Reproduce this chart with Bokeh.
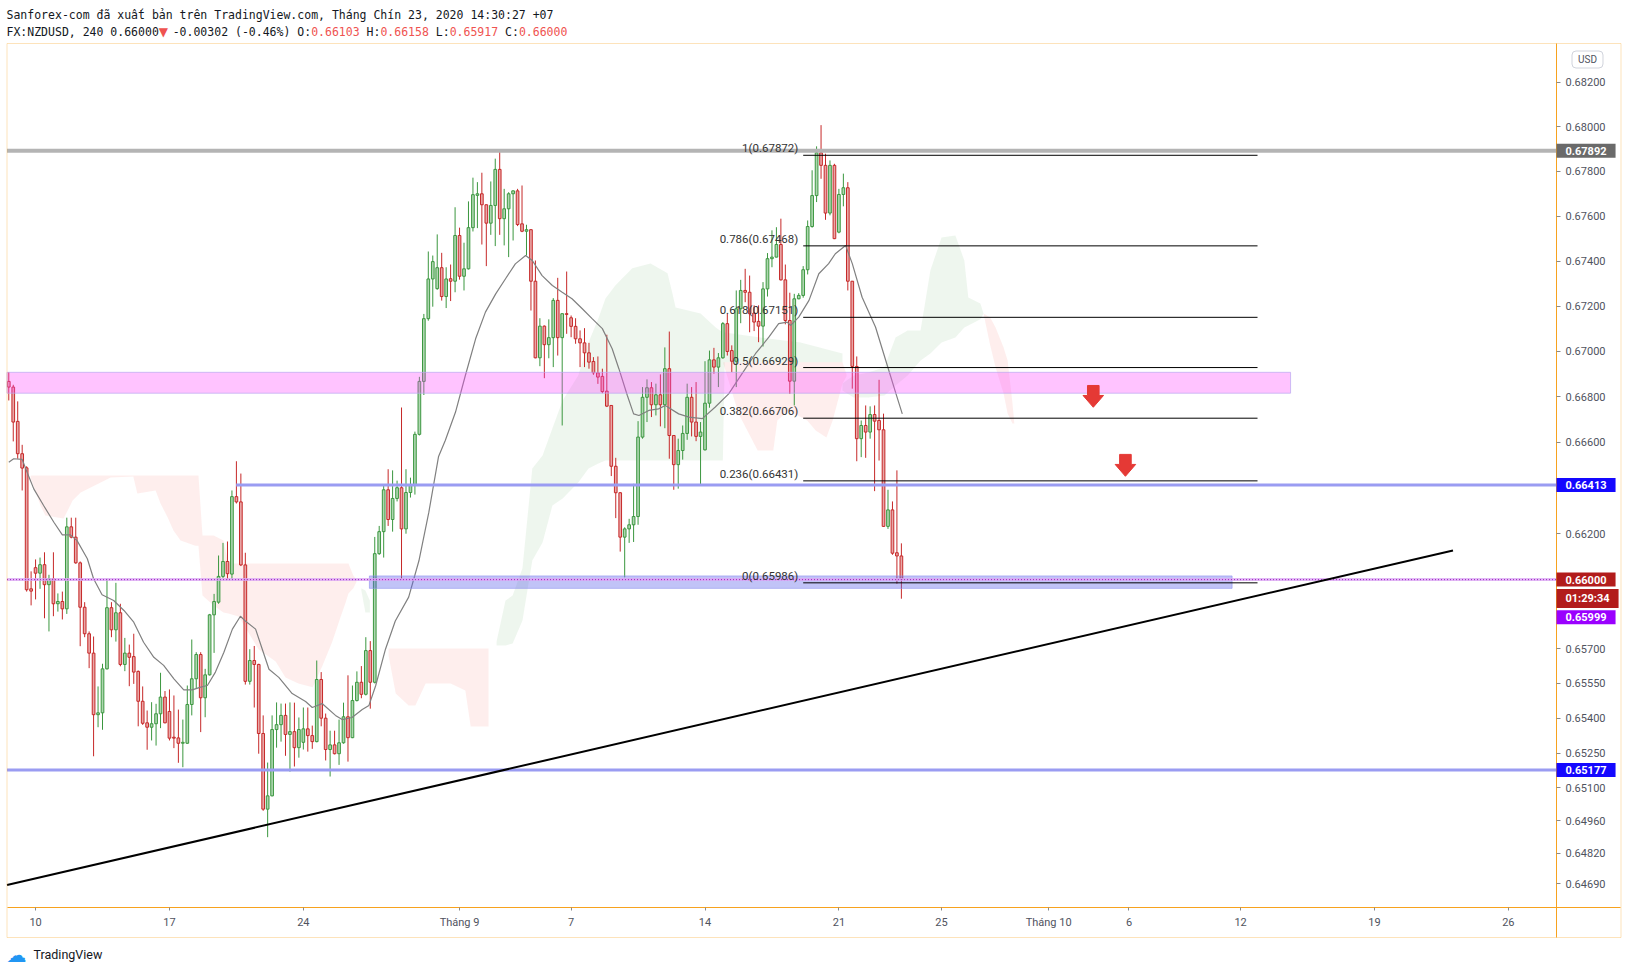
from bokeh.plotting import figure
from bokeh.models import (Range1d, FixedTicker, PrintfTickFormatter, Label,
                          BoxAnnotation, ColumnDataSource)
from bokeh.core.properties import value
from bokeh.embed import file_html
from bokeh.resources import INLINE

# ---------------- data (FX:NZDUSD, 4h) ----------------
OPEN = [
    0.66868, 0.66843, 0.66692, 0.66550, 0.66488, 0.65960, 0.66052, 0.66028, 0.66065, 0.65978,
    0.66004, 0.65895, 0.65905, 0.65873, 0.66230, 0.66185, 0.66073, 0.65880, 0.65765, 0.65681,
    0.65415, 0.65423, 0.65613, 0.65878, 0.65782, 0.65856, 0.65632, 0.65681, 0.65666, 0.65602,
    0.65473, 0.65380, 0.65361, 0.65376, 0.65419, 0.65491, 0.65429, 0.65318, 0.65315, 0.65292,
    0.65292, 0.65459, 0.65570, 0.65675, 0.65488, 0.65587, 0.65847, 0.65902, 0.66014, 0.66079,
    0.66024, 0.66362, 0.66339, 0.66064, 0.65559, 0.65649, 0.65632, 0.65334, 0.65009, 0.65066,
    0.65351, 0.65372, 0.65412, 0.65330, 0.65342, 0.65273, 0.65296, 0.65354, 0.65325, 0.65299,
    0.65567, 0.65400, 0.65265, 0.65285, 0.65247, 0.65294, 0.65406, 0.65316, 0.65476, 0.65555,
    0.65503, 0.65692, 0.65555, 0.66113, 0.66209, 0.66392, 0.66262, 0.66354, 0.66401, 0.66221,
    0.66380, 0.66411, 0.66635, 0.66868, 0.67145, 0.67321, 0.67278, 0.67371, 0.67243, 0.67322,
    0.67311, 0.67514, 0.67333, 0.67366, 0.67549, 0.67693, 0.67700, 0.67651, 0.67569, 0.67648,
    0.67809, 0.67589, 0.67633, 0.67700, 0.67713, 0.67566, 0.67533, 0.67540, 0.67311, 0.66972,
    0.67112, 0.67030, 0.67061, 0.67226, 0.67061, 0.67167, 0.67149, 0.67111, 0.67056, 0.67038,
    0.66994, 0.66956, 0.66906, 0.66890, 0.66825, 0.66762, 0.66495, 0.66379, 0.66185, 0.66221,
    0.66239, 0.66275, 0.66623, 0.66798, 0.66840, 0.66765, 0.66809, 0.66765, 0.66924, 0.66630,
    0.66502, 0.66564, 0.66639, 0.66798, 0.66689, 0.66626, 0.66567, 0.66772, 0.66963, 0.66931,
    0.66972, 0.67123, 0.67004, 0.66957, 0.67189, 0.67270, 0.67262, 0.67170, 0.67133, 0.67112,
    0.67277, 0.67411, 0.67418, 0.67474, 0.67317, 0.67137, 0.66869, 0.67233, 0.67248, 0.67362,
    0.67554, 0.67692, 0.67883, 0.67827, 0.67614, 0.67827, 0.67529, 0.67697, 0.67727, 0.67311,
    0.66934, 0.66616, 0.66674, 0.66645, 0.66722, 0.66696, 0.66655, 0.66232, 0.66304, 0.66117,
    0.66103,
]
HIGH = [
    0.66909, 0.66853, 0.66780, 0.66589, 0.66495, 0.66036, 0.66088, 0.66096, 0.66119, 0.66021,
    0.66119, 0.65940, 0.65948, 0.66270, 0.66270, 0.66270, 0.66079, 0.65902, 0.65775, 0.65753,
    0.65537, 0.65635, 0.66004, 0.65902, 0.65986, 0.65895, 0.65747, 0.65718, 0.65765, 0.65606,
    0.65537, 0.65433, 0.65469, 0.65462, 0.65596, 0.65517, 0.65524, 0.65498, 0.65437, 0.65394,
    0.65541, 0.65740, 0.65685, 0.65685, 0.65613, 0.65851, 0.65938, 0.66105, 0.66160, 0.66166,
    0.66389, 0.66517, 0.66463, 0.66117, 0.65698, 0.65712, 0.65635, 0.65412, 0.65209, 0.65412,
    0.65468, 0.65463, 0.65463, 0.65468, 0.65467, 0.65403, 0.65446, 0.65446, 0.65368, 0.65649,
    0.65599, 0.65420, 0.65346, 0.65346, 0.65394, 0.65467, 0.65585, 0.65541, 0.65602, 0.65625,
    0.65750, 0.65733, 0.66186, 0.66234, 0.66411, 0.66482, 0.66477, 0.66432, 0.66753, 0.66482,
    0.66445, 0.66647, 0.66888, 0.67166, 0.67443, 0.67425, 0.67519, 0.67437, 0.67373, 0.67385,
    0.67640, 0.67549, 0.67482, 0.67666, 0.67772, 0.67752, 0.67794, 0.67652, 0.67755, 0.67857,
    0.67892, 0.67722, 0.67707, 0.67715, 0.67722, 0.67737, 0.67562, 0.67541, 0.67403, 0.67147,
    0.67115, 0.67142, 0.67236, 0.67326, 0.67168, 0.67354, 0.67159, 0.67147, 0.67093, 0.67103,
    0.67038, 0.66975, 0.66978, 0.66924, 0.67074, 0.66762, 0.66532, 0.66382, 0.66228, 0.66265,
    0.66418, 0.66693, 0.66843, 0.66877, 0.66865, 0.66858, 0.66899, 0.67018, 0.67088, 0.66632,
    0.66616, 0.66674, 0.66858, 0.66843, 0.66865, 0.66689, 0.66957, 0.67004, 0.67016, 0.66993,
    0.67130, 0.67167, 0.67027, 0.67270, 0.67317, 0.67366, 0.67336, 0.67204, 0.67204, 0.67307,
    0.67436, 0.67537, 0.67551, 0.67589, 0.67385, 0.67260, 0.67255, 0.67258, 0.67378, 0.67581,
    0.67805, 0.67912, 0.68007, 0.67879, 0.67849, 0.67834, 0.67722, 0.67790, 0.67752, 0.67312,
    0.66978, 0.66696, 0.66762, 0.66758, 0.66762, 0.66875, 0.66726, 0.66392, 0.66341, 0.66477,
    0.66158,
]
LOW = [
    0.66784, 0.66604, 0.66528, 0.66389, 0.65948, 0.65888, 0.65914, 0.65960, 0.65832, 0.65775,
    0.65841, 0.65861, 0.65827, 0.65851, 0.66180, 0.66069, 0.65711, 0.65750, 0.65616, 0.65236,
    0.65361, 0.65350, 0.65610, 0.65750, 0.65731, 0.65624, 0.65603, 0.65538, 0.65548, 0.65365,
    0.65371, 0.65264, 0.65304, 0.65282, 0.65357, 0.65378, 0.65304, 0.65271, 0.65208, 0.65189,
    0.65290, 0.65412, 0.65527, 0.65340, 0.65404, 0.65584, 0.65682, 0.65895, 0.66006, 0.66000,
    0.66002, 0.66332, 0.66059, 0.65545, 0.65545, 0.65446, 0.65247, 0.65002, 0.64889, 0.65064,
    0.65273, 0.65299, 0.65238, 0.65170, 0.65192, 0.65230, 0.65265, 0.65256, 0.65268, 0.65296,
    0.65365, 0.65218, 0.65149, 0.65244, 0.65199, 0.65290, 0.65213, 0.65314, 0.65472, 0.65486,
    0.65498, 0.65441, 0.65550, 0.66108, 0.66096, 0.66234, 0.66209, 0.66341, 0.66002, 0.66200,
    0.66358, 0.66371, 0.66630, 0.66808, 0.67136, 0.67198, 0.67273, 0.67225, 0.67192, 0.67223,
    0.67262, 0.67318, 0.67270, 0.67363, 0.67532, 0.67547, 0.67474, 0.67378, 0.67517, 0.67467,
    0.67517, 0.67470, 0.67418, 0.67492, 0.67556, 0.67529, 0.67425, 0.67181, 0.66970, 0.66935,
    0.66882, 0.66970, 0.66931, 0.66982, 0.66674, 0.67078, 0.67063, 0.67034, 0.66931, 0.66931,
    0.66924, 0.66897, 0.66857, 0.66816, 0.66755, 0.66452, 0.66268, 0.66122, 0.66010, 0.66160,
    0.66164, 0.66239, 0.66616, 0.66689, 0.66711, 0.66718, 0.66670, 0.66662, 0.66528, 0.66392,
    0.66397, 0.66524, 0.66611, 0.66626, 0.66605, 0.66415, 0.66564, 0.66752, 0.66902, 0.66843,
    0.66968, 0.66982, 0.66909, 0.66843, 0.67125, 0.67218, 0.67085, 0.67090, 0.67041, 0.67022,
    0.67243, 0.67373, 0.67417, 0.67314, 0.67120, 0.66813, 0.66762, 0.67231, 0.67238, 0.67341,
    0.67549, 0.67663, 0.67767, 0.67584, 0.67604, 0.67498, 0.67524, 0.67644, 0.67270, 0.66836,
    0.66517, 0.66535, 0.66532, 0.66616, 0.66386, 0.66520, 0.66230, 0.66221, 0.66108, 0.65982,
    0.65917,
]
CLOSE = [
    0.66843, 0.66689, 0.66550, 0.66487, 0.65956, 0.65950, 0.66028, 0.66065, 0.65978, 0.66004,
    0.65895, 0.65905, 0.65873, 0.66230, 0.66185, 0.66073, 0.65880, 0.65765, 0.65681, 0.65415,
    0.65423, 0.65613, 0.65878, 0.65782, 0.65856, 0.65632, 0.65681, 0.65663, 0.65599, 0.65473,
    0.65378, 0.65361, 0.65376, 0.65419, 0.65491, 0.65380, 0.65314, 0.65314, 0.65292, 0.65296,
    0.65459, 0.65570, 0.65675, 0.65488, 0.65587, 0.65847, 0.65905, 0.66014, 0.66079, 0.66026,
    0.66362, 0.66339, 0.66064, 0.65559, 0.65649, 0.65632, 0.65334, 0.65009, 0.65066, 0.65351,
    0.65372, 0.65412, 0.65330, 0.65342, 0.65273, 0.65351, 0.65354, 0.65325, 0.65299, 0.65567,
    0.65400, 0.65265, 0.65285, 0.65247, 0.65294, 0.65406, 0.65316, 0.65476, 0.65555, 0.65503,
    0.65692, 0.65555, 0.66113, 0.66209, 0.66392, 0.66262, 0.66354, 0.66401, 0.66221, 0.66380,
    0.66411, 0.66635, 0.66868, 0.67145, 0.67321, 0.67398, 0.67371, 0.67243, 0.67321, 0.67311,
    0.67514, 0.67333, 0.67366, 0.67549, 0.67696, 0.67700, 0.67651, 0.67569, 0.67648, 0.67809,
    0.67589, 0.67633, 0.67700, 0.67713, 0.67563, 0.67533, 0.67540, 0.67311, 0.66972, 0.67112,
    0.67030, 0.67061, 0.67226, 0.67061, 0.67167, 0.67164, 0.67111, 0.67056, 0.67038, 0.66994,
    0.66953, 0.66906, 0.66887, 0.66823, 0.66759, 0.66495, 0.66379, 0.66185, 0.66221, 0.66239,
    0.66275, 0.66623, 0.66798, 0.66840, 0.66765, 0.66809, 0.66765, 0.66924, 0.66630, 0.66502,
    0.66564, 0.66639, 0.66798, 0.66689, 0.66626, 0.66645, 0.66772, 0.66963, 0.66931, 0.66972,
    0.67123, 0.67000, 0.66957, 0.67189, 0.67270, 0.67262, 0.67167, 0.67130, 0.67112, 0.67277,
    0.67411, 0.67418, 0.67474, 0.67317, 0.67137, 0.66869, 0.67233, 0.67248, 0.67362, 0.67554,
    0.67692, 0.67883, 0.67827, 0.67614, 0.67827, 0.67500, 0.67697, 0.67727, 0.67311, 0.66934,
    0.66616, 0.66674, 0.66645, 0.66722, 0.66693, 0.66655, 0.66232, 0.66304, 0.66115, 0.66103,
    0.66000,
]

# moving average (gray line)
MA_X = [0.0, 1.1, 3.0, 4.1, 5.6, 7.8, 10.1, 12.0, 13.8, 15.3, 17.6, 19.0, 20.9, 23.5, 25.8,
        28.0, 30.2, 32.5, 34.7, 37.0, 39.2, 41.1, 43.0, 44.5, 46.3, 48.2, 50.1, 51.9, 53.0,
        55.3, 56.8, 58.3, 60.5, 63.5, 66.5, 68.0, 70.2, 73.2, 74.7, 76.9, 79.2, 80.7, 82.2,
        84.4, 86.6, 89.6, 91.9, 94.1, 96.3, 97.8, 100.1, 102.3, 104.6, 106.8, 109.1, 111.3,
        113.5, 115.8, 117.3, 119.5, 121.8, 124.0, 126.2, 128.5, 130.7, 133.0, 135.2, 136.7,
        138.6, 140.0, 141.2, 143.4, 145.6, 147.1, 150.1, 152.4, 155.4, 158.3, 161.3, 164.3,
        167.3, 170.3, 172.5, 174.4, 175.2, 177.0, 179.3, 181.5, 183.7, 185.2, 187.5, 189.0,
        191.2, 194.2, 196.5, 198.8, 200.2]
MA_Y = [0.66513, 0.66528, 0.66525, 0.66469, 0.66396, 0.66323, 0.66250, 0.66195, 0.66195,
        0.66170, 0.66091, 0.66004, 0.65934, 0.65909, 0.65866, 0.65815, 0.65728, 0.65663,
        0.65628, 0.65570, 0.65522, 0.65522, 0.65534, 0.65541, 0.65599, 0.65685, 0.65785,
        0.65841, 0.65820, 0.65785, 0.65698, 0.65611, 0.65576, 0.65506, 0.65472, 0.65446,
        0.65463, 0.65412, 0.65394, 0.65403, 0.65437, 0.65455, 0.65540, 0.65698, 0.65820,
        0.65924, 0.66082, 0.66292, 0.66538, 0.66608, 0.66733, 0.66894, 0.67056, 0.67174,
        0.67255, 0.67322, 0.67388, 0.67425, 0.67403, 0.67336, 0.67292, 0.67262, 0.67233,
        0.67189, 0.67145, 0.67101, 0.67012, 0.66924, 0.66806, 0.66725, 0.66718, 0.66740,
        0.66747, 0.66762, 0.66725, 0.66711, 0.66704, 0.66755, 0.66813, 0.66902, 0.66990,
        0.67063, 0.67123, 0.67130, 0.67115, 0.67152, 0.67226, 0.67344, 0.67389, 0.67433,
        0.67470, 0.67389, 0.67240, 0.67108, 0.66960, 0.66813, 0.66725]

# ichimoku-like cloud pieces (index, upper, lower)
RED1_X = [4.9, 7.1, 8.2, 12.3, 13.2, 14.3, 16.1, 20.6, 22.8, 27.9, 28.8, 32.9, 34.0, 35.6,
          36.9, 38.5, 41.8, 42.5, 43.4, 45.9, 48.1, 49.2, 51.5, 56.0, 59.8, 62.0, 64.9, 68.1,
          70.3, 72.5, 74.3, 75.4, 76.1, 77.2, 77.9]
RED1_TOP = [0.66455, 0.66455, 0.66455, 0.66455, 0.66455, 0.66455, 0.66455, 0.66455, 0.66455,
            0.66455, 0.66455, 0.66455, 0.66455, 0.66455, 0.66455, 0.66455, 0.66455, 0.66455,
            0.66192, 0.66192, 0.66170, 0.66070, 0.66070, 0.66070, 0.66070, 0.66070, 0.66070,
            0.66070, 0.66070, 0.66070, 0.66070, 0.66070, 0.66070, 0.66018, 0.66000]
RED1_BOT = [0.66442, 0.66323, 0.66280, 0.66266, 0.66301, 0.66345, 0.66380, 0.66424, 0.66446,
            0.66450, 0.66376, 0.66389, 0.66332, 0.66271, 0.66214, 0.66170, 0.66148, 0.66148,
            0.65931, 0.65888, 0.65857, 0.65853, 0.65840, 0.65697, 0.65645, 0.65576, 0.65550,
            0.65533, 0.65628, 0.65731, 0.65835, 0.65896, 0.65940, 0.65962, 0.65990]
GRN1_X = [79.0, 79.9, 80.9]
GRN1_TOP = [0.65962, 0.65953, 0.65909]
GRN1_BOT = [0.65953, 0.65857, 0.65857]
RED2_X = [85.1, 86.7, 89.6, 91.1, 93.4, 99.0, 102.3, 103.5, 106.1, 107.5]
RED2_TOP = [0.65701, 0.65701, 0.65701, 0.65701, 0.65701, 0.65701, 0.65701, 0.65701, 0.65701, 0.65701]
RED2_BOT = [0.65671, 0.65506, 0.65455, 0.65455, 0.65550, 0.65550, 0.65519, 0.65364, 0.65364, 0.65364]
GRN2_X = [109.3, 111.3, 112.9, 115.1, 117.3, 119.6, 121.8, 124.1, 127.6, 129.9, 132.1, 133.7,
          135.9, 139.7, 143.8, 147.6, 148.7, 149.4, 155.0, 158.4, 160.0, 160.4, 168.4, 177.4, 186.8]
GRN2_TOP = [0.65731, 0.65909, 0.65931, 0.66049, 0.66485, 0.66542, 0.66661, 0.66784, 0.66894,
            0.67040, 0.67146, 0.67234, 0.67292, 0.67368, 0.67390, 0.67346, 0.67257, 0.67195,
            0.67168, 0.67106, 0.67084, 0.67084, 0.67062, 0.67040, 0.66991]
GRN2_BOT = [0.65714, 0.65714, 0.65723, 0.65822, 0.66083, 0.66162, 0.66323, 0.66354, 0.66424,
            0.66485, 0.66507, 0.66520, 0.66520, 0.66520, 0.66520, 0.66520, 0.66520, 0.66520,
            0.66520, 0.66520, 0.66520, 0.66952, 0.66952, 0.66952, 0.66952]
RED3_X = [160.1, 163.5, 167.8, 171.3, 172.2, 174.7, 178.9, 180.8, 183.2, 184.6, 186.8, 187.7]
RED3_TOP = [0.66952, 0.66952, 0.66952, 0.66952, 0.66952, 0.66952, 0.66952, 0.66952, 0.66952,
            0.66952, 0.66952, 0.66900]
RED3_BOT = [0.66948, 0.66727, 0.66564, 0.66564, 0.66696, 0.66740, 0.66696, 0.66652, 0.66621,
            0.66696, 0.66859, 0.66890]
GRN3_X = [186.8, 189.3, 192.6, 196.2, 198.7, 201.4, 204.3, 206.5, 209.0, 212.1, 214.1, 215.0, 217.7, 218.4]
GRN3_TOP = [0.66859, 0.66894, 0.66907, 0.66930, 0.67062, 0.67093, 0.67093, 0.67359, 0.67505,
            0.67514, 0.67403, 0.67239, 0.67212, 0.67168]
GRN3_BOT = [0.66828, 0.66797, 0.66797, 0.66806, 0.66850, 0.66894, 0.66960, 0.66991, 0.67040,
            0.67062, 0.67106, 0.67115, 0.67142, 0.67168]
RED4_X = [218.4, 219.9, 221.1, 222.9, 223.8, 224.9, 225.3]
RED4_TOP = [0.67168, 0.67150, 0.67106, 0.67018, 0.66960, 0.66771, 0.66683]
RED4_BOT = [0.67168, 0.67027, 0.66930, 0.66815, 0.66727, 0.66683, 0.66683]

# drawings
FIB_RATIO = ["1", "0.786", "0.618", "0.5", "0.382", "0.236", "0"]
FIB_PRICE = [0.67872, 0.67468, 0.67151, 0.66929, 0.66706, 0.66431, 0.65986]
FIB_START, FIB_END = 178.0, 279.8
TREND_X = [-0.40, 323.6]
TREND_Y = [0.64685, 0.66127]
PINK_ZONE = dict(right=287.2, top=0.66908, bottom=0.66816)
BLUE_ZONE = dict(left=80.8, right=274.1, top=0.66016, bottom=0.65962)
RES_LINE = 0.67892
SUP_LINE_1, SUP_LINE_1_START = 0.66413, 50.95
SUP_LINE_2 = 0.65177
LAST_PRICE = 0.66000
TIMER_TXT = "01:29:34"
ASK_PRICE = 0.65999
ARROW_X = [243.0, 250.2]
ARROW_TOP = [0.66850, 0.66547]

DATE_POS = [6, 36, 66, 101, 126, 156, 186, 209, 233, 251, 276, 306, 336]
DATE_TXT = ["10", "17", "24", "Tháng 9", "7", "14", "21", "25", "Tháng 10", "6", "12", "19", "26"]
PRICE_TICKS = [0.682, 0.680, 0.678, 0.676, 0.674, 0.672, 0.670, 0.668, 0.666, 0.662,
               0.657, 0.6555, 0.654, 0.6525, 0.651, 0.6496, 0.6482, 0.6469]

# ---------------- layout constants ----------------
W, H = 1627, 973
PLOT_X0, PLOT_X1 = -0.40, 346.8          # left / right edge of the price pane
PANE_RIGHT = 361.1                       # right edge of the price-axis box
Y_PANE_TOP, Y_PANE_BOTTOM = 0.68374, 0.64589
Y_AXIS_BOTTOM = 0.644614                 # bottom of the time-axis strip
X_RANGE = (-1.858, 362.70)
Y_RANGE = (0.643086, 0.685680)

ORANGE = "#f7a21e"
p = figure(width=W, height=H, output_backend="svg", toolbar_location=None,
           x_range=Range1d(*X_RANGE), y_range=Range1d(*Y_RANGE),
           y_axis_type="log", y_axis_location="right",
           min_border=0, min_border_left=0, min_border_right=0,
           min_border_top=0, min_border_bottom=0,
           background_fill_color="white", border_fill_color="white",
           outline_line_color=None)
p.title.visible = False
p.grid.visible = False

yax = p.yaxis[0]
yax.fixed_location = PLOT_X1
yax.bounds = (Y_AXIS_BOTTOM, Y_PANE_TOP)
yax.ticker = FixedTicker(ticks=PRICE_TICKS, minor_ticks=[])
yax.formatter = PrintfTickFormatter(format="%.5f")
yax.major_tick_out = 4
yax.major_tick_in = 0
yax.minor_tick_out = 0
yax.minor_tick_in = 0
yax.major_tick_line_color = "#8a8a8a"
yax.axis_line_color = ORANGE
yax.major_label_standoff = 5
yax.major_label_text_font = "Roboto"
yax.major_label_text_font_size = "11px"
yax.major_label_text_color = "#50535e"

xax = p.xaxis[0]
xax.fixed_location = Y_PANE_BOTTOM
xax.bounds = (PLOT_X0, PANE_RIGHT)
xax.ticker = FixedTicker(ticks=DATE_POS, minor_ticks=[])
xax.major_label_overrides = {pos: txt for pos, txt in zip(DATE_POS, DATE_TXT)}
xax.major_tick_out = 3
xax.major_tick_in = 0
xax.minor_tick_out = 0
xax.minor_tick_in = 0
xax.major_tick_line_color = "#8a8a8a"
xax.axis_line_color = ORANGE
xax.major_label_standoff = 6
xax.major_label_text_font = "Roboto"
xax.major_label_text_font_size = "11px"
xax.major_label_text_color = "#50535e"

# cloud
for xs, top, bot, col in [(RED1_X, RED1_TOP, RED1_BOT, "#f44336"),
                          (GRN1_X, GRN1_TOP, GRN1_BOT, "#43a047"),
                          (RED2_X, RED2_TOP, RED2_BOT, "#f44336"),
                          (GRN2_X, GRN2_TOP, GRN2_BOT, "#43a047"),
                          (RED3_X, RED3_TOP, RED3_BOT, "#f44336"),
                          (GRN3_X, GRN3_TOP, GRN3_BOT, "#43a047"),
                          (RED4_X, RED4_TOP, RED4_BOT, "#f44336")]:
    p.varea(x=xs, y1=top, y2=bot, fill_color=col, fill_alpha=0.09)

# candles
N = min(len(OPEN), len(HIGH), len(LOW), len(CLOSE))
UP_LINE, UP_FILL = "#3b973f", "#aed6b0"
DN_LINE, DN_FILL = "#c62828", "#e9a7a7"
up = [CLOSE[i] >= OPEN[i] for i in range(N)]
src = ColumnDataSource(dict(
    x=list(range(N)), h=HIGH[:N], l=LOW[:N],
    top=[max(OPEN[i], CLOSE[i]) for i in range(N)],
    bot=[min(OPEN[i], CLOSE[i]) for i in range(N)],
    line=[UP_LINE if u else DN_LINE for u in up],
    fill=[UP_FILL if u else DN_FILL for u in up]))
p.segment(x0="x", y0="h", x1="x", y1="l", line_color="line", line_width=1, source=src)
p.vbar(x="x", top="top", bottom="bot", width=0.6, fill_color="fill", line_color="line",
       line_width=1, source=src)

# moving average
p.line(MA_X, MA_Y, line_color="#808080", line_width=1.2)

# horizontal levels
p.segment(x0=[PLOT_X0], y0=[RES_LINE], x1=[PLOT_X1], y1=[RES_LINE],
          line_color="#b4b4b4", line_width=4)
p.segment(x0=[SUP_LINE_1_START, PLOT_X0], y0=[SUP_LINE_1, SUP_LINE_2],
          x1=[PLOT_X1, PLOT_X1], y1=[SUP_LINE_1, SUP_LINE_2],
          line_color="#9a9cf2", line_width=3)

# zones
p.quad(left=[PLOT_X0], right=[PINK_ZONE["right"]], top=[PINK_ZONE["top"]],
       bottom=[PINK_ZONE["bottom"]], fill_color="#ff44ff", fill_alpha=0.32,
       line_color="#b9a8f0", line_alpha=0.7, line_width=1)
p.quad(left=[BLUE_ZONE["left"]], right=[BLUE_ZONE["right"]], top=[BLUE_ZONE["top"]],
       bottom=[BLUE_ZONE["bottom"]], fill_color="#5c60eb", fill_alpha=0.38,
       line_color="#8e90ee", line_alpha=0.6, line_width=1)

# last price line
p.segment(x0=[PLOT_X0], y0=[LAST_PRICE], x1=[PLOT_X1], y1=[LAST_PRICE],
          line_color="#d9a6f2", line_width=3, line_alpha=0.8)
p.segment(x0=[PLOT_X0], y0=[LAST_PRICE], x1=[PLOT_X1], y1=[LAST_PRICE],
          line_color="#a020c0", line_width=1, line_dash="1 2")

# fibonacci retracement
p.segment(x0=[FIB_START] * len(FIB_PRICE), y0=FIB_PRICE, x1=[FIB_END] * len(FIB_PRICE),
          y1=FIB_PRICE, line_color="#000000", line_width=1)
p.text(x=[FIB_START - 1.1] * len(FIB_PRICE), y=FIB_PRICE,
       text=[f"{r}({v:.5f})" for r, v in zip(FIB_RATIO, FIB_PRICE)],
       text_align="right", text_baseline="bottom", text_font=value("Roboto"),
       text_font_size="11.5px", text_color="#333333")

# trend line
p.line(TREND_X, TREND_Y, line_color="#000000", line_width=2)

# arrows
bw, hw, bh, hh = 1.3, 2.3, 0.00044, 0.00052
axs, ays = [], []
for cx, t in zip(ARROW_X, ARROW_TOP):
    axs.append([cx - bw, cx + bw, cx + bw, cx + hw, cx, cx - hw, cx - bw])
    ays.append([t, t, t - bh, t - bh, t - bh - hh, t - bh, t - bh])
p.patches(axs, ays, fill_color="#e53935", line_color="#e53935", line_width=1)

# outer border of the chart widget (screen px, y from the bottom)
p.add_layout(BoxAnnotation(left=6.5, right=1620.5, top=H - 43, bottom=H - 937,
                           left_units="screen", right_units="screen",
                           top_units="screen", bottom_units="screen",
                           fill_alpha=0, line_color=ORANGE, line_width=1))

# price tags on the axis
TAGS = [("0.67892", RES_LINE, "#6a6a6a", 0), ("0.66413", SUP_LINE_1, "#1408ff", 0),
        ("0.66000", LAST_PRICE, "#b21c1c", 0), (TIMER_TXT, LAST_PRICE, "#b21c1c", -19),
        ("0.65999", ASK_PRICE, "#9a00ff", -37.5), ("0.65177", SUP_LINE_2, "#1408ff", 0)]
for txt, yv, bg, off in TAGS:
    p.add_layout(Label(x=1556, y=yv, x_units="screen", y_units="data", y_offset=off,
                       text=txt, text_align="left", text_baseline="middle",
                       text_font="Roboto", text_font_style="bold", text_font_size="11px",
                       text_color="white", background_fill_color=bg,
                       padding=dict(left=9, right=9, top=3, bottom=3)))
p.add_layout(Label(x=1587, y=H - 59, x_units="screen", y_units="screen", text="USD",
                   text_align="center", text_baseline="middle", text_font="Roboto",
                   text_font_size="10px", text_color="#50535e", background_fill_color="white",
                   border_line_color="#d1d4dc", border_radius=4,
                   padding=dict(left=6, right=6, top=3, bottom=3)))

# header
MONO = "DejaVu Sans Mono"
FS = "11.5px"
CW = 6.924
p.add_layout(Label(x=6, y=H - 14, x_units="screen", y_units="screen",
                   text="Sanforex-com đã xuất bản trên TradingView.com, Tháng Chín 23, 2020 14:30:27 +07",
                   text_font=MONO, text_font_size=FS, text_color="#131722",
                   text_baseline="middle"))
RED = "#ef5350"
SEGS = [("FX:NZDUSD, 240 0.66000", 0, "#131722"),
        ("-0.00302 (-0.46%) O:", 24, "#131722"), ("0.66103", 44, RED), ("H:", 52, "#131722"),
        ("0.66158", 54, RED), ("L:", 62, "#131722"), ("0.65917", 64, RED),
        ("C:", 72, "#131722"), ("0.66000", 74, RED)]
for txt, pos, col in SEGS:
    p.add_layout(Label(x=6 + pos * CW, y=H - 31, x_units="screen", y_units="screen",
                       text=txt, text_font=MONO, text_font_size=FS, text_color=col,
                       text_baseline="middle"))
p.add_layout(Label(x=6 + 22 * CW, y=H - 31, x_units="screen", y_units="screen",
                   text="▼", text_font="DejaVu Sans", text_font_size="12px",
                   text_color=RED, text_baseline="middle"))

# footer logo
p.add_layout(Label(x=6, y=H - 954, x_units="screen", y_units="screen", text="☁",
                   text_font="DejaVu Sans", text_font_size="20px", text_color="#2196f3",
                   text_baseline="middle"))
p.add_layout(Label(x=33, y=H - 954, x_units="screen", y_units="screen",
                   text="TradingView", text_font="Roboto", text_font_size="12.5px",
                   text_color="#131722", text_baseline="middle"))

open("out.html", "w").write(file_html(p, INLINE))
